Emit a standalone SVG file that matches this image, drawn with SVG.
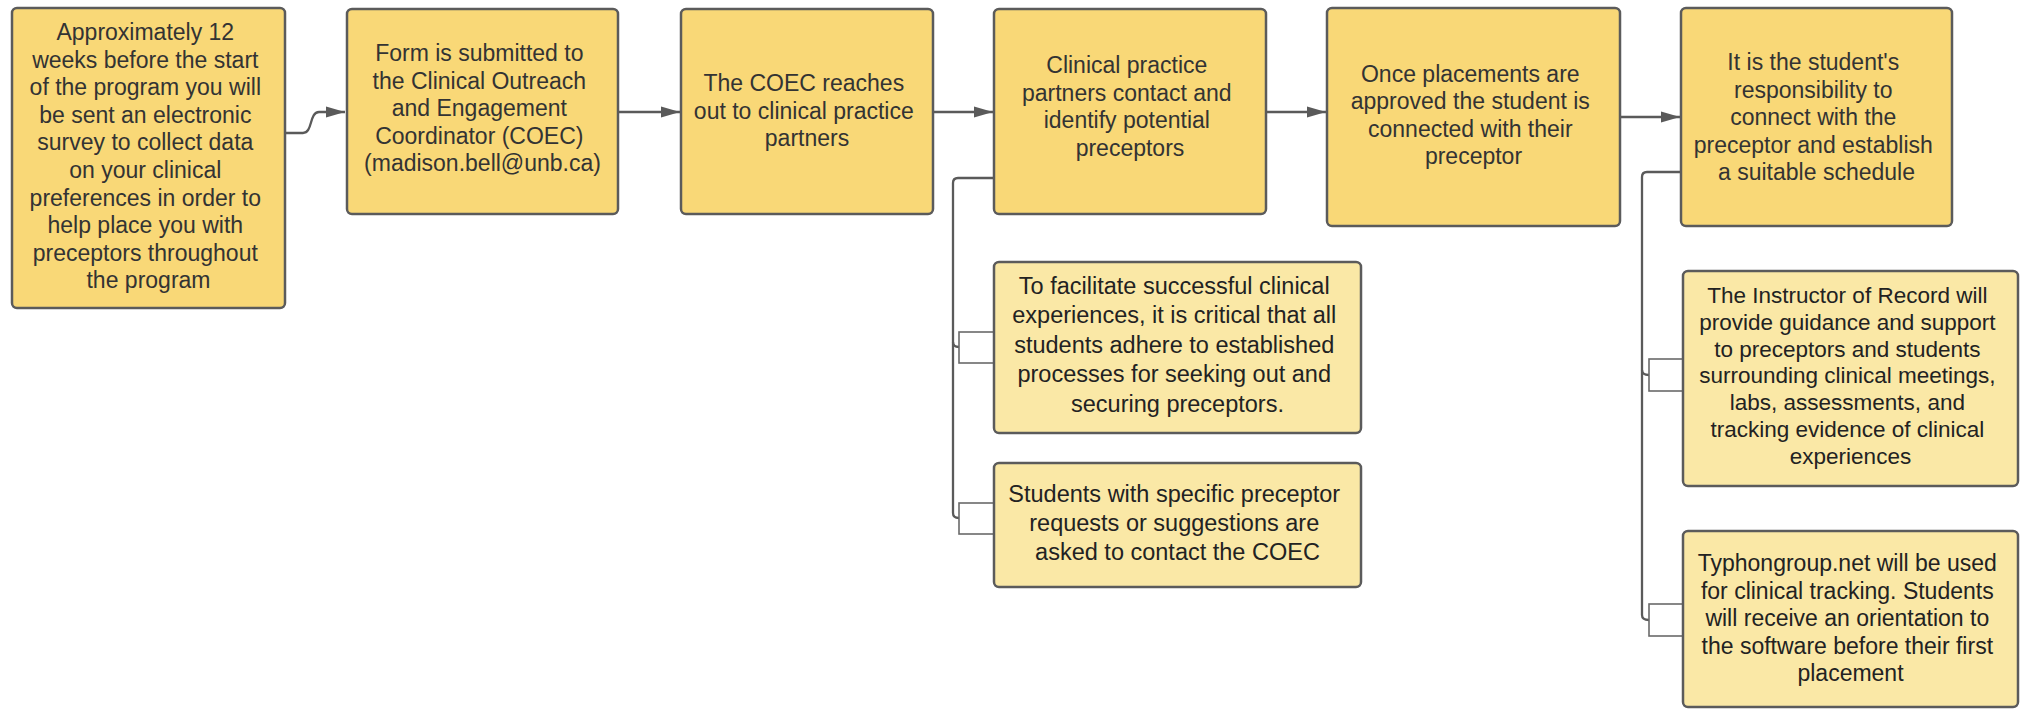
<svg xmlns="http://www.w3.org/2000/svg" width="2024" height="709" viewBox="0 0 2024 709">
  <style>
    .step { fill: #F9D877; stroke: #5b5b5b; stroke-width: 2.5; }
    .note { fill: #FAE8A6; stroke: #5b5b5b; stroke-width: 2.5; }
    .tab { fill: #ffffff; stroke: #6a6a6a; stroke-width: 1.6; }
    .link { fill: none; stroke: #5a5a5a; stroke-width: 2.3; }
    .lbl { font-family: "Liberation Sans", Arial, sans-serif; font-size: 23px; fill: #333333; text-anchor: middle; }
    .lbl2 { font-family: "Liberation Sans", Arial, sans-serif; font-size: 23.5px; fill: #222222; text-anchor: middle; }
  </style>
  <defs>
    <marker id="arrow" markerUnits="userSpaceOnUse" markerWidth="20" markerHeight="12" refX="19" refY="6" orient="auto">
      <path d="M0,0.5 L19,6 L0,11.5 Z" fill="#5a5a5a"/>
    </marker>
  </defs>
  <rect width="2024" height="709" fill="#ffffff"/>

  <!-- connectors -->
  <g id="connectors">
    <path class="link" d="M285,133 H303 C313,133 309,112 319,112 H345" marker-end="url(#arrow)"/>
    <path class="link" d="M618,112 H680" marker-end="url(#arrow)"/>
    <path class="link" d="M933,112 H993" marker-end="url(#arrow)"/>
    <path class="link" d="M1266,112 H1326" marker-end="url(#arrow)"/>
    <path class="link" d="M1620,117 H1680" marker-end="url(#arrow)"/>
    <!-- branch from the fourth step to its notes -->
    <path class="link" d="M994,178 H958 Q953,178 953,183 V342 Q953,347 959,347"/>
    <path class="link" d="M953,342 V513 Q953,518 959,518"/>
    <!-- branch from the last step to its notes -->
    <path class="link" d="M1681,172 H1647 Q1642,172 1642,177 V370 Q1642,375 1649,375"/>
    <path class="link" d="M1642,370 V615 Q1642,620 1649,620"/>
  </g>

  <g id="step1">
    <rect class="step" x="12" y="8" width="273" height="300" rx="5"/>
    <text class="lbl">
      <tspan x="148.5" y="40">Approximately 12</tspan>
      <tspan x="148.5" y="67.6">weeks before the start</tspan>
      <tspan x="148.5" y="95.2">of the program you will</tspan>
      <tspan x="148.5" y="122.8">be sent an electronic</tspan>
      <tspan x="148.5" y="150.4">survey to collect data</tspan>
      <tspan x="148.5" y="178">on your clinical</tspan>
      <tspan x="148.5" y="205.6">preferences in order to</tspan>
      <tspan x="148.5" y="233.2">help place you with</tspan>
      <tspan x="148.5" y="260.8">preceptors throughout</tspan>
      <tspan x="148.5" y="288.4">the program</tspan>
    </text>
  </g>

  <g id="step2">
    <rect class="step" x="347" y="9" width="271" height="205" rx="5"/>
    <text class="lbl">
      <tspan x="482.5" y="61">Form is submitted to</tspan>
      <tspan x="482.5" y="88.6">the Clinical Outreach</tspan>
      <tspan x="482.5" y="116.2">and Engagement</tspan>
      <tspan x="482.5" y="143.8">Coordinator (COEC)</tspan>
      <tspan x="482.5" y="171.4">(madison.bell@unb.ca)</tspan>
    </text>
  </g>

  <g id="step3">
    <rect class="step" x="681" y="9" width="252" height="205" rx="5"/>
    <text class="lbl">
      <tspan x="807" y="91">The COEC reaches</tspan>
      <tspan x="807" y="118.6">out to clinical practice</tspan>
      <tspan x="807" y="146.2">partners</tspan>
    </text>
  </g>

  <g id="step4">
    <rect class="step" x="994" y="9" width="272" height="205" rx="5"/>
    <text class="lbl">
      <tspan x="1130" y="73">Clinical practice</tspan>
      <tspan x="1130" y="100.6">partners contact and</tspan>
      <tspan x="1130" y="128.2">identify potential</tspan>
      <tspan x="1130" y="155.8">preceptors</tspan>
    </text>
  </g>

  <g id="step5">
    <rect class="step" x="1327" y="8" width="293" height="218" rx="5"/>
    <text class="lbl">
      <tspan x="1473.5" y="82">Once placements are</tspan>
      <tspan x="1473.5" y="109.4">approved the student is</tspan>
      <tspan x="1473.5" y="136.8">connected with their</tspan>
      <tspan x="1473.5" y="164.2">preceptor</tspan>
    </text>
  </g>

  <g id="step6">
    <rect class="step" x="1681" y="8" width="271" height="218" rx="5"/>
    <text class="lbl">
      <tspan x="1816.5" y="70">It is the student's</tspan>
      <tspan x="1816.5" y="97.5">responsibility to</tspan>
      <tspan x="1816.5" y="125">connect with the</tspan>
      <tspan x="1816.5" y="152.5">preceptor and establish</tspan>
      <tspan x="1816.5" y="180">a suitable schedule</tspan>
    </text>
  </g>

  <g id="note-process">
    <rect class="tab" x="959" y="332" width="35" height="31"/>
    <rect class="note" x="994" y="262" width="367" height="171" rx="5"/>
    <text class="lbl2">
      <tspan x="1177.5" y="293.5">To facilitate successful clinical</tspan>
      <tspan x="1177.5" y="323">experiences, it is critical that all</tspan>
      <tspan x="1177.5" y="352.5">students adhere to established</tspan>
      <tspan x="1177.5" y="382">processes for seeking out and</tspan>
      <tspan x="1177.5" y="411.5">securing preceptors.</tspan>
    </text>
  </g>

  <g id="note-requests">
    <rect class="tab" x="959" y="503" width="35" height="31"/>
    <rect class="note" x="994" y="463" width="367" height="124" rx="5"/>
    <text class="lbl2">
      <tspan x="1177.5" y="501.5">Students with specific preceptor</tspan>
      <tspan x="1177.5" y="530.5">requests or suggestions are</tspan>
      <tspan x="1177.5" y="559.5">asked to contact the COEC</tspan>
    </text>
  </g>

  <g id="note-instructor">
    <rect class="tab" x="1649" y="359" width="34" height="32"/>
    <rect class="note" x="1683" y="271" width="335" height="215" rx="5"/>
    <text class="lbl" style="font-size:22.5px; fill:#222222">
      <tspan x="1850.5" y="303">The Instructor of Record will</tspan>
      <tspan x="1850.5" y="329.8">provide guidance and support</tspan>
      <tspan x="1850.5" y="356.6">to preceptors and students</tspan>
      <tspan x="1850.5" y="383.4">surrounding clinical meetings,</tspan>
      <tspan x="1850.5" y="410.2">labs, assessments, and</tspan>
      <tspan x="1850.5" y="437">tracking evidence of clinical</tspan>
      <tspan x="1850.5" y="463.8">experiences</tspan>
    </text>
  </g>

  <g id="note-tracking">
    <rect class="tab" x="1649" y="604" width="34" height="32"/>
    <rect class="note" x="1683" y="531" width="335" height="176" rx="5"/>
    <text class="lbl" style="fill:#222222">
      <tspan x="1850.5" y="571">Typhongroup.net will be used</tspan>
      <tspan x="1850.5" y="598.5">for clinical tracking. Students</tspan>
      <tspan x="1850.5" y="626">will receive an orientation to</tspan>
      <tspan x="1850.5" y="653.5">the software before their first</tspan>
      <tspan x="1850.5" y="681">placement</tspan>
    </text>
  </g>
</svg>
